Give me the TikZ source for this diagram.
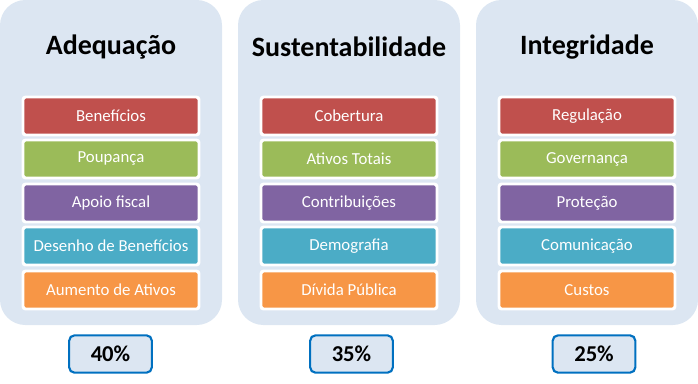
\documentclass[tikz,border=0pt]{standalone}
\usepackage{fontspec}
\setmainfont{Carlito}
\usetikzlibrary{positioning}

\definecolor{painel}{HTML}{DCE6F2}
\definecolor{vermelho}{HTML}{C0504D}
\definecolor{verde}{HTML}{9BBB59}
\definecolor{roxo}{HTML}{8064A2}
\definecolor{azul}{HTML}{4BACC6}
\definecolor{laranja}{HTML}{F79646}
\definecolor{borda}{HTML}{0070C0}

\tikzset{
  item/.style={draw=white, line width=2.2pt, rounded corners=2pt, minimum width=132pt,
    minimum height=28.5pt, inner sep=0pt, text=white, font=\fontsize{12.6}{14}\selectfont},
  titulo/.style={font=\fontsize{21}{24}\selectfont\bfseries},
  peso/.style={draw=borda, fill=painel, line width=1.6pt, rounded corners=4pt,
    minimum width=62pt, minimum height=28pt, inner sep=0pt, font=\fontsize{17}{19}\selectfont\bfseries}
}

\begin{document}
\begin{tikzpicture}[x=0.75pt, y=-0.75pt]
\useasboundingbox (0,0) rectangle (698,383);

% paineis
\fill[painel, rounded corners=19pt] (0,0) rectangle (222,325);
\fill[painel, rounded corners=19pt] (238,0) rectangle (460,325);
\fill[painel, rounded corners=19pt] (476,0) rectangle (698,325);

% titulos
\node[titulo] at (111,47) (t1) {Adequação};
\node[titulo] at (349,47) (t2) {Sustentabilidade};
\node[titulo] at (587,47) (t3) {Integridade};

% Adequacao
\node[item, fill=vermelho] at (111,116) (a1) {Benefícios};
\node[item, fill=verde]    at (111,159) (a2) {Poupança};
\node[item, fill=roxo]     at (111,203) (a3) {Apoio fiscal};
\node[item, fill=azul]     at (111,246) (a4) {Desenho de Benefícios};
\node[item, fill=laranja]  at (111,290) (a5) {Aumento de Ativos};

% Sustentabilidade
\node[item, fill=vermelho] at (349,116) (s1) {Cobertura};
\node[item, fill=verde]    at (349,159) (s2) {Ativos Totais};
\node[item, fill=roxo]     at (349,203) (s3) {Contribuições};
\node[item, fill=azul]     at (349,246) (s4) {Demografia};
\node[item, fill=laranja]  at (349,290) (s5) {Dívida Pública};

% Integridade
\node[item, fill=vermelho] at (587,116) (i1) {Regulação};
\node[item, fill=verde]    at (587,159) (i2) {Governança};
\node[item, fill=roxo]     at (587,203) (i3) {Proteção};
\node[item, fill=azul]     at (587,246) (i4) {Comunicação};
\node[item, fill=laranja]  at (587,290) (i5) {Custos};

% pesos
\node[peso] at (110.5,354) (p1) {40\%};
\node[peso] at (351.5,354) (p2) {35\%};
\node[peso] at (594,354)   (p3) {25\%};

\end{tikzpicture}
\end{document}
